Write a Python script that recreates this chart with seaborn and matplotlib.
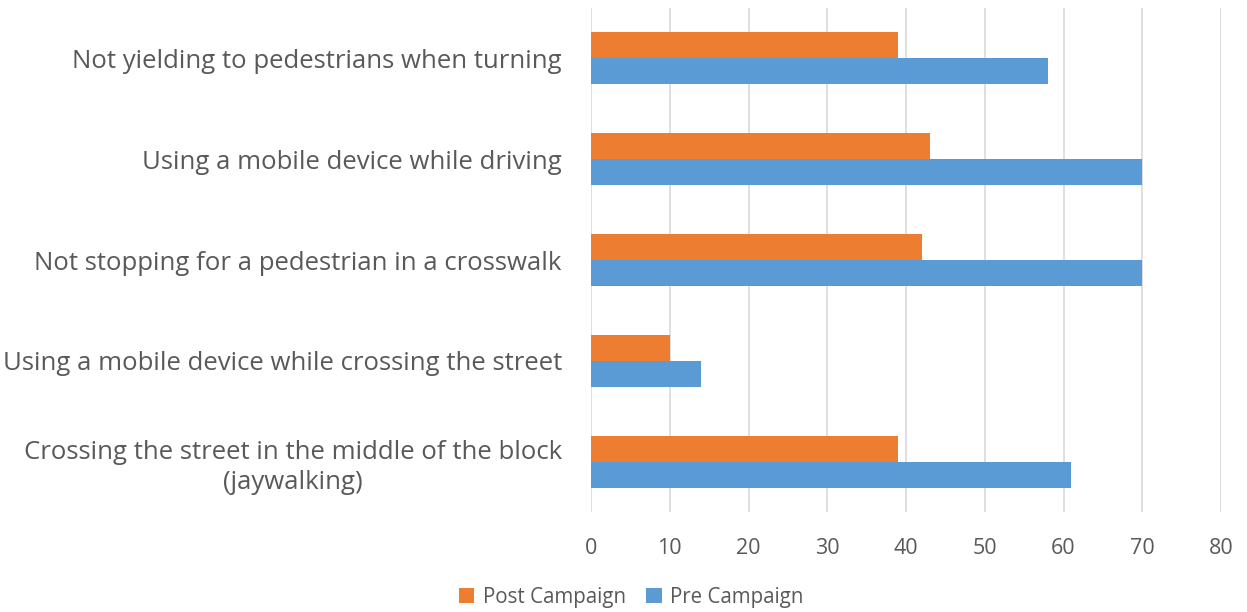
import matplotlib
matplotlib.use("Agg")
import matplotlib.pyplot as plt
import seaborn as sns
import pandas as pd

categories = [
    "Not yielding to pedestrians when turning",
    "Using a mobile device while driving",
    "Not stopping for a pedestrian in a crosswalk",
    "Using a mobile device while crossing the street",
    "Crossing the street in the middle of the block\n(jaywalking)",
]
post_campaign = [39, 43, 42, 10, 39]
pre_campaign = [58, 70, 70, 14, 61]
series_names = ["Post Campaign", "Pre Campaign"]
x_ticks = [0, 10, 20, 30, 40, 50, 60, 70, 80]

df = pd.DataFrame({
    "category": categories * 2,
    "value": post_campaign + pre_campaign,
    "series": [series_names[0]] * len(categories) + [series_names[1]] * len(categories),
})

sns.set_theme(style="white")
plt.rcParams["font.family"] = ["Open Sans", "DejaVu Sans"]

fig = plt.figure(figsize=(12.47, 6.12), dpi=100)
ax = fig.add_axes([591 / 1247, 1 - 512 / 612, (1221 - 591) / 1247, (512 - 8) / 612])

palette = {"Post Campaign": "#ED7D31", "Pre Campaign": "#5B9BD5"}
sns.barplot(data=df, y="category", x="value", hue="series", order=categories,
            hue_order=series_names, palette=palette, orient="h", width=0.516,
            saturation=1, ax=ax, legend=False, edgecolor="none")

ax.set_xlim(0, 80)
ax.set_xticks(x_ticks)
ax.set_ylim(4.5, -0.5)
ax.grid(axis="x", color="#D9D9D9", linewidth=1.2)
ax.set_axisbelow(True)
for s in ax.spines.values():
    s.set_visible(False)
ax.set_xlabel("")
ax.set_ylabel("")
ax.tick_params(axis="x", length=0, pad=19, labelsize=15.5, labelcolor="#595959")
ax.tick_params(axis="y", length=0, pad=21, labelsize=18.5, labelcolor="#595959")
for lbl in ax.get_yticklabels():
    lbl.set_horizontalalignment("right")
    lbl.set_multialignment("center")
    lbl.set_linespacing(1.3)

from matplotlib.patches import Patch
handles = [Patch(facecolor=palette[n], edgecolor="none") for n in series_names]
fig.legend(handles, series_names, loc="center", bbox_to_anchor=(631 / 1247, 1 - 597 / 612),
           ncol=2, frameon=False, fontsize=14.8, labelcolor="#595959",
           handlelength=0.75, handleheight=0.75, handletextpad=0.4, columnspacing=1.0)

fig.savefig("out.png", dpi=100)
